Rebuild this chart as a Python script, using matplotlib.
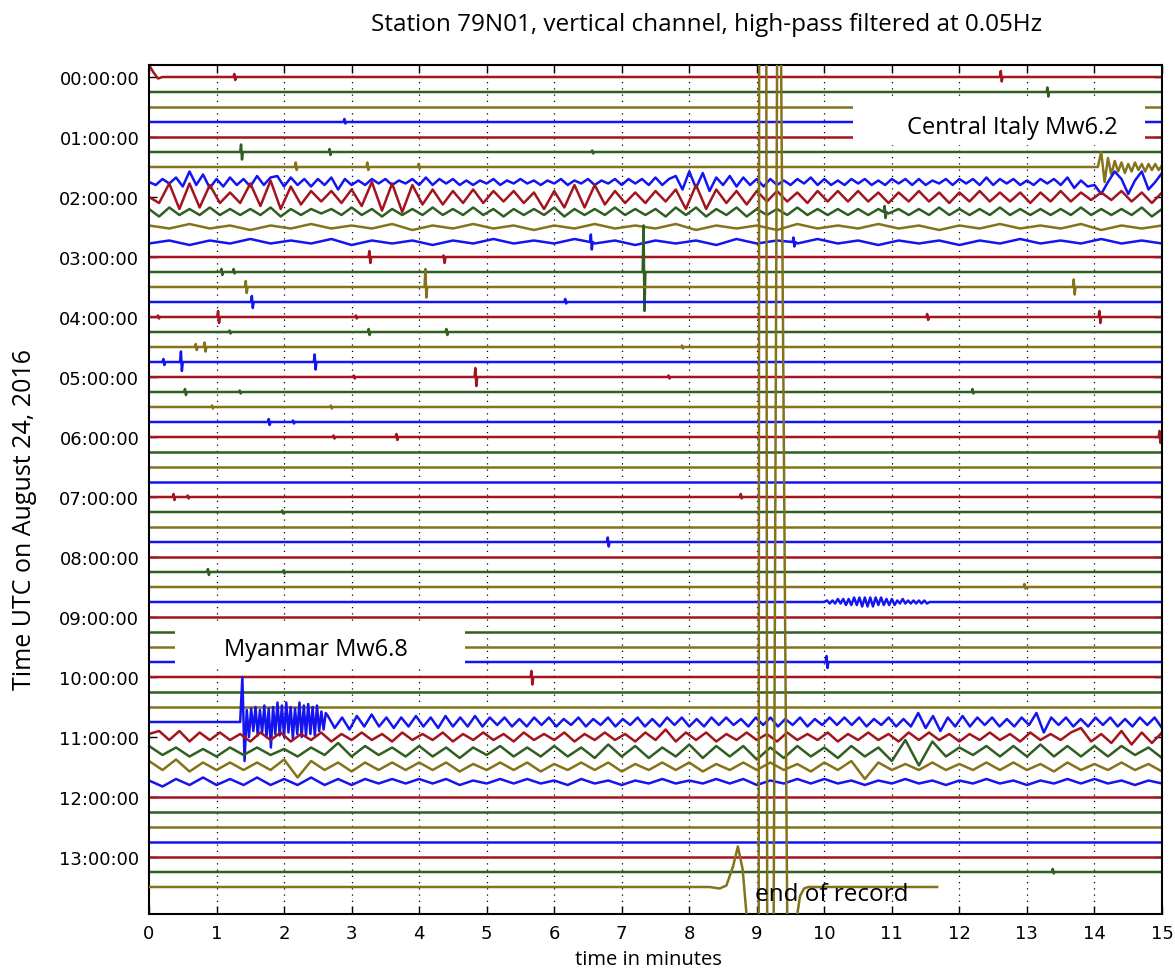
import numpy as np
import matplotlib
matplotlib.use('Agg')
import matplotlib.pyplot as plt
from matplotlib.patches import Rectangle

# one trace per 15 minutes, colours cycle red, green, olive, blue
trace_colors = ['#a3141e', '#2f5f21', '#85731c', '#1414f0']
n_traces = 55                       # 00:00 .. 13:30
minute_ticks = list(range(16))
hour_ticks = list(range(0, 56, 4))
hour_labels = ['%02d:00:00' % h for h in range(14)]

# amplitudes below are in tenths of the trace spacing, positive = up
# (trace, start minute, end minute, samples)
wave_segments = [
    (0, 0.0, 0.2, [8, 3, -1, 0]),
    (6, 14.05, 15.0, [0, 10, -10, 6, -5, 4, -3, 3, -4, 2, -3, 3, -2, 2, -3, 2, -2, 2, -2, 1]),
    (7, 0.0, 15.0, [0, -2, 2, -1, 3, -3, 7, -2, 5, -4,
                    2, -3, 3, -2, 2, -3, 4, -2, 3, 4,
                    -3, 3, -2, 2, -3, 2, -2, 3, -5, 2,
                    -2, 1, -2, 2, -1, 2, -2, 1, -1, 2,
                    -2, 3, -2, 2, -1, 2, -2, 1, -2, 1,
                    -1, 2, -2, 1, -1, 2, -1, 1, -2, 1,
                    -1, 2, -2, 1, -1, 2, -2, 1, -1, 2,
                    -2, 2, -1, 2, -2, 3, -2, 2, 4, -5,
                    7, -4, 6, -6, 3, -2, 4, -3, 3, -2,
                    2, -3, 2, -2, 1, -2, 2, -1, 3, -2,
                    2, -2, 1, -2, 2, -1, 2, -2, 1, -2,
                    2, -1, 2, -2, 2, -2, 1, -1, 2, -2,
                    2, -1, 2, -2, 3, -2, 2, -1, 2, -2,
                    1, -2, 2, -1, 2, -2, 3, -4, 1, -3,
                    -2, -8, 0, 7, 2, -8, 1, 7, -5, 0,
                    6]),
    (8, 0.0, 15.0, [0, -4, 9, -8, 9, -7, 8, -4, 3, -4,
                    9, -6, 11, -8, 7, -5, 4, -3, 4, -4,
                    5, -6, 10, -9, 9, -10, 8, -5, 5, -5,
                    4, -4, 5, -4, 4, -3, 4, -4, 3, -8,
                    4, -7, 8, -7, 8, -5, 4, -4, 3, -4,
                    4, -3, 5, -8, 8, -8, 5, -4, 4, -5,
                    4, -3, 4, -3, 3, -4, 4, -3, 4, -3,
                    4, -3, 3, -4, 3, -3, 4, -3, 3, -4,
                    3, -3, 4, -3, 3, -3, 3, -4, 3, -3,
                    4, -3, 3, -2, 3, -2, 4, -3, 3, -4,
                    3]),
    (9, 0.0, 15.0, [2, -3, 3, -2, 2, -2, 3, -2, 2, -2,
                    2, -2, 3, -3, 2, -2, 2, -1, 2, -2,
                    3, -2, 2, -3, 2, -2, 2, -2, 3, -2,
                    2, -2, 3, -2, 2, -3, 2, -2, 2, -2,
                    3, -3, 2, -2, 2, -2, 3, -2, 2, -2,
                    2, -3, 3, -2, 3, -3, 2, -2, 3, -3,
                    2, -2, 2, -2, 3, -2, 2, -2, 2, -2,
                    2, -2, 2, -1, 2, -2, 2, -2, 3, -2,
                    2, -2, 2, -2, 3, -2, 2, -2, 2, -2,
                    2, -2, 3, -2, 2, -2, 2, -2, 3, -3,
                    2]),
    (10, 0.0, 15.0, [1, -1, 2, -1, 1, -2, 1, -1, 2, -1, 1, -1, 2, -2, 1, -1, 2,
                     -1, 1, -2, 1, -1, 2, -1, 1, -1, 2, -2, 1, -1, 1, -2, 2, -1,
                     1, -1, 2, -1, 1, -2, 1, -1, 2, -1, 1, -1, 2, -2, 1, -1, 1]),
    (11, 0.0, 15.0, [-1, 1, -2, 1, -1, 2, -1, 1, -1, 2, -2, 1, -1, 1, -2, 1, -1,
                     2, -1, 1, -1, 2, -1, 1, -2, 1, -1, 1, -2, 2, -1, 1, -1, 2,
                     -1, 1, -2, 1, -1, 1, -2, 1, -1, 2, -1, 1, -1, 2, -1, 1, -1]),
    (35, 10.0, 11.6, [0, 1, -1, 1, -1, 2, -1, 2, -2, 2, -2, 3, -2, 3, -3, 3, -3, 3,
                      -3, 3, -2, 3, -2, 2, -2, 2, -2, 1, -1, 2, -1, 1, -1, 1, -1,
                      1, -1, 1, -1, 0, 0]),
    (43, 1.35, 2.65, [0, 30, -26, 8, -10, 9, -6, 10, -9, 8, -7, 11, -10, 9, -17,
                      10, -8, 13, -9, 11, -10, 13, -7, 10, -11, 9, -8, 13, -10,
                      11, -9, 12, -8, 10, -9, 11, -6, 7, -5, 6, 4]),
    (43, 2.75, 15.0, [-4, 3, -5, 4, -3, 5, -3, 3, -4, 3,
                      -3, 4, -3, 3, -4, 4, -3, 3, -3, 4,
                      -3, 3, -2, 3, -3, 2, -3, 3, -2, 3,
                      -3, 2, -2, 3, -3, 2, -2, 3, -3, 2,
                      -2, 3, -3, 2, -3, 3, -2, 3, -3, 2,
                      -3, 3, -2, 3, -2, 2, -3, 3, -2, 3,
                      -3, 2, -2, 3, -3, 2, -2, 3, -2, 3,
                      -2, 3, -3, 2, -2, 3, -3, 2, -3, 6,
                      -4, 4, -6, 3, -3, 4, -3, 3, -2, 3,
                      -3, 2, -3, 3, -2, 6, -7, 3, -2, 3,
                      -3, 2, -3, 3, -2, 3, -3, 2, -3, 3,
                      -2, 3, -4]),
    (44, 0.0, 15.0, [2, 4, -2, 4, -3, 3, -2, 3, -2, 2,
                     -3, 3, -2, 3, -3, 2, -2, 3, -3, 2,
                     -2, 3, -2, 2, -3, 3, -2, 2, -2, 3,
                     -3, 2, -2, 3, -2, 2, -3, 3, -2, 2,
                     -2, 3, -3, 2, -2, 3, -2, 2, -3, 3,
                     -2, 5, -3, 3, -2, 3, -3, 2, -2, 3,
                     -2, 2, -3, 3, -2, 2, -2, 3, -3, 2,
                     -2, 3, -2, 2, -3, 3, -2, 3, -2, 2,
                     -3, 2, -2, 3, -2, 2, -3, 3, -2, 2,
                     -2, 3, 6, -3, 2, -4, 4, -5, 3, -4,
                     3]),
    (45, 0.0, 15.0, [4, -2, 3, -3, 2, -3, 3, -2, 3, -2,
                     2, -3, 3, -2, 6, -3, 4, -2, 3, -3,
                     4, -3, 3, -4, 3, -2, 4, -3, 3, -3,
                     4, -3, 3, -4, 5, -3, 4, -4, 3, -3,
                     5, -4, 4, -3, 4, -5, 3, -4, 4, -3,
                     3, -4, 4, -3, 3, -6, 8, -9, 7, -3,
                     3, -2, 4, -3, 4, -3, 5, -3, 4, -3,
                     4, -3, 4, -2, 3, -4]),
    (46, 0.0, 15.0, [4, -2, 5, -3, 3, -2, 3, -2, 3, -2,
                     5, -7, 4, -2, 3, -3, 3, -2, 3, -2,
                     3, -2, 3, -3, 2, -2, 3, -2, 3, -3,
                     2, -2, 3, -2, 3, -3, 2, -2, 3, -2,
                     3, -3, 2, -2, 3, -2, 3, -2, 2, -3,
                     3, -2, 4, -8, 3, -2, 2, -2, 3, -2,
                     2, -2, 3, -2, 3, -2, 2, -3, 3, -2,
                     2, -2, 3, -2, 2, -3]),
    (47, 0.0, 15.0, [1, -3, 2, -2, 3, -2, 2, -2, 3, -2,
                     2, -2, 3, -2, 2, -2, 2, -1, 2, -1,
                     2, -1, 2, -2, 1, -1, 2, -1, 2, -1,
                     1, -2, 2, -1, 1, -2, 1, -1, 2, -1,
                     1, -1, 2, -1, 2, -2, 1, -1, 2, -1,
                     2, -1, 1, -2, 1, -1, 2, -1, 1, -2,
                     1, -1, 2, -1, 1, -2, 1, -1, 2, -1,
                     2, -1, 1, -2, 1, -1]),
]

# isolated spikes: (trace, minute, up, down)
spikes = [
    (0, 1.27, 2, 2), (0, 12.62, 4, 3), (1, 13.31, 3, 3), (3, 2.9, 2, 1),
    (5, 1.37, 5, 5), (5, 2.68, 2, 2), (5, 6.57, 1, 1),
    (6, 2.18, 3, 2), (6, 3.24, 3, 2), (6, 4.0, 2, 1),
    (9, 10.9, 4, 4), (11, 6.55, 5, 5), (11, 9.55, 3, 3),
    (12, 3.27, 4, 4), (12, 4.37, 1, 4),
    (13, 1.08, 2, 2), (13, 1.26, 2, 1), (13, 7.33, 31, 26),
    (14, 1.44, 4, 4), (14, 4.1, 12, 7), (14, 13.7, 5, 5),
    (15, 1.53, 4, 4), (15, 6.17, 2, 1),
    (16, 0.14, 1, 1), (16, 1.03, 4, 4), (16, 3.07, 1, 1), (16, 11.53, 2, 2), (16, 14.08, 4, 4),
    (17, 1.2, 1, 1), (17, 3.26, 2, 2), (17, 4.41, 2, 2),
    (18, 0.7, 2, 2), (18, 0.83, 3, 3), (18, 7.9, 1, 1),
    (19, 0.22, 2, 2), (19, 0.48, 7, 6), (19, 2.46, 5, 5),
    (20, 3.04, 1, 1), (20, 4.84, 6, 6), (20, 7.7, 1, 1),
    (21, 0.54, 2, 2), (21, 1.35, 1, 1), (21, 12.2, 2, 1),
    (22, 0.94, 1, 1), (22, 2.7, 1, 1), (23, 1.78, 2, 2), (23, 2.14, 1, 1),
    (24, 2.74, 1, 1), (24, 3.67, 2, 2), (24, 14.97, 4, 4),
    (28, 0.37, 2, 2), (28, 0.58, 1, 1), (28, 8.77, 2, 1), (29, 1.98, 1, 1),
    (31, 6.8, 3, 3), (33, 0.88, 2, 2), (33, 2.0, 1, 1), (34, 12.97, 2, 1),
    (39, 10.04, 4, 4), (40, 5.67, 4, 5), (53, 13.39, 2, 1),
]

# last trace (13:30) until the end of the record
end_minutes = [0.0, 8.3, 8.45, 8.55, 8.65, 8.72, 8.79, 8.86, 8.95, 9.025, 9.035,
               9.14, 9.16, 9.225, 9.305, 9.352, 9.495, 9.58, 9.6, 9.64, 9.7, 9.76, 11.67]
end_amps = [0, 0, -1, 1, 14, 27, 12, -25, -300, -300, 600,
            600, -300, -300, 600, 600, -300, -60, -18, -6, -1, 0, 0]

body_font = 'Open Sans'

fig = plt.figure(figsize=(11.75, 9.7), dpi=100)
ax = fig.add_axes([149 / 1175, 1 - 915 / 970, 1013 / 1175, 849 / 970])

for i in range(n_traces - 1):
    ts, amps = [], []
    for tr, t0, t1, vals in wave_segments:
        if tr == i:
            ts += list(np.linspace(t0, t1, len(vals)))
            amps += list(vals)
    for tr, t, up, down in spikes:
        if tr == i:
            ts += [t - 0.02, t - 0.007, t + 0.007, t + 0.02]
            amps += [0, up, -down, 0]
    if not ts or min(ts) > 0.001:
        ts.append(0.0); amps.append(0)
    if max(ts) < 14.999:
        ts.append(15.0); amps.append(0)
    order = np.argsort(ts, kind='stable')
    ts = np.array(ts)[order]
    amps = np.array(amps, dtype=float)[order]
    ax.plot(ts, i - amps / 10.0, color=trace_colors[i % 4], lw=1.8, zorder=2)

ax.plot(end_minutes, (n_traces - 1) - np.array(end_amps) / 10.0,
        color=trace_colors[(n_traces - 1) % 4], lw=1.8, zorder=3)

# white label boxes
ax.add_patch(Rectangle((10.42, 1.47), 14.75 - 10.42, 3.06, facecolor='white',
                       edgecolor='none', zorder=4))
ax.text(12.79, 3.33, 'Central Italy Mw6.2', ha='center', va='center',
        fontsize=17, family=body_font, zorder=5)
ax.add_patch(Rectangle((0.385, 36.47), 4.68 - 0.385, 3.0, facecolor='white',
                       edgecolor='none', zorder=4))
ax.text(2.47, 38.1, 'Myanmar Mw6.8', ha='center', va='center',
        fontsize=17, family=body_font, zorder=5)
ax.text(8.97, 54.87, 'end of record', ha='left', va='baseline',
        fontsize=17.5, family=body_font, zorder=5)

ax.set_xlim(0, 15)
ax.set_ylim(55.8, -0.8)
ax.set_xticks(minute_ticks)
ax.set_yticks(hour_ticks)
ax.set_yticklabels(hour_labels)
for x in minute_ticks[1:-1]:
    ax.axvline(x, color='k', lw=0.9, ls=(0, (1, 4)), zorder=1)
ax.tick_params(direction='in', top=True, right=True, length=6, width=1,
               labelsize=13, pad=7)
for sp in ax.spines.values():
    sp.set_linewidth(1.5)

fig.text(707 / 1175, 1 - 25 / 970, 'Station 79N01, vertical channel, high-pass filtered at 0.05Hz',
         ha='center', va='center', fontsize=17.5, family=body_font)
fig.text(648 / 1175, 1 - 960 / 970, 'time in minutes', ha='center', va='center',
         fontsize=14.5, family=body_font)
fig.text(25 / 1175, 1 - 520 / 970, 'Time UTC on August 24, 2016', ha='center', va='center',
         rotation=90, fontsize=18, family=body_font)

fig.savefig('out.png', dpi=100)
